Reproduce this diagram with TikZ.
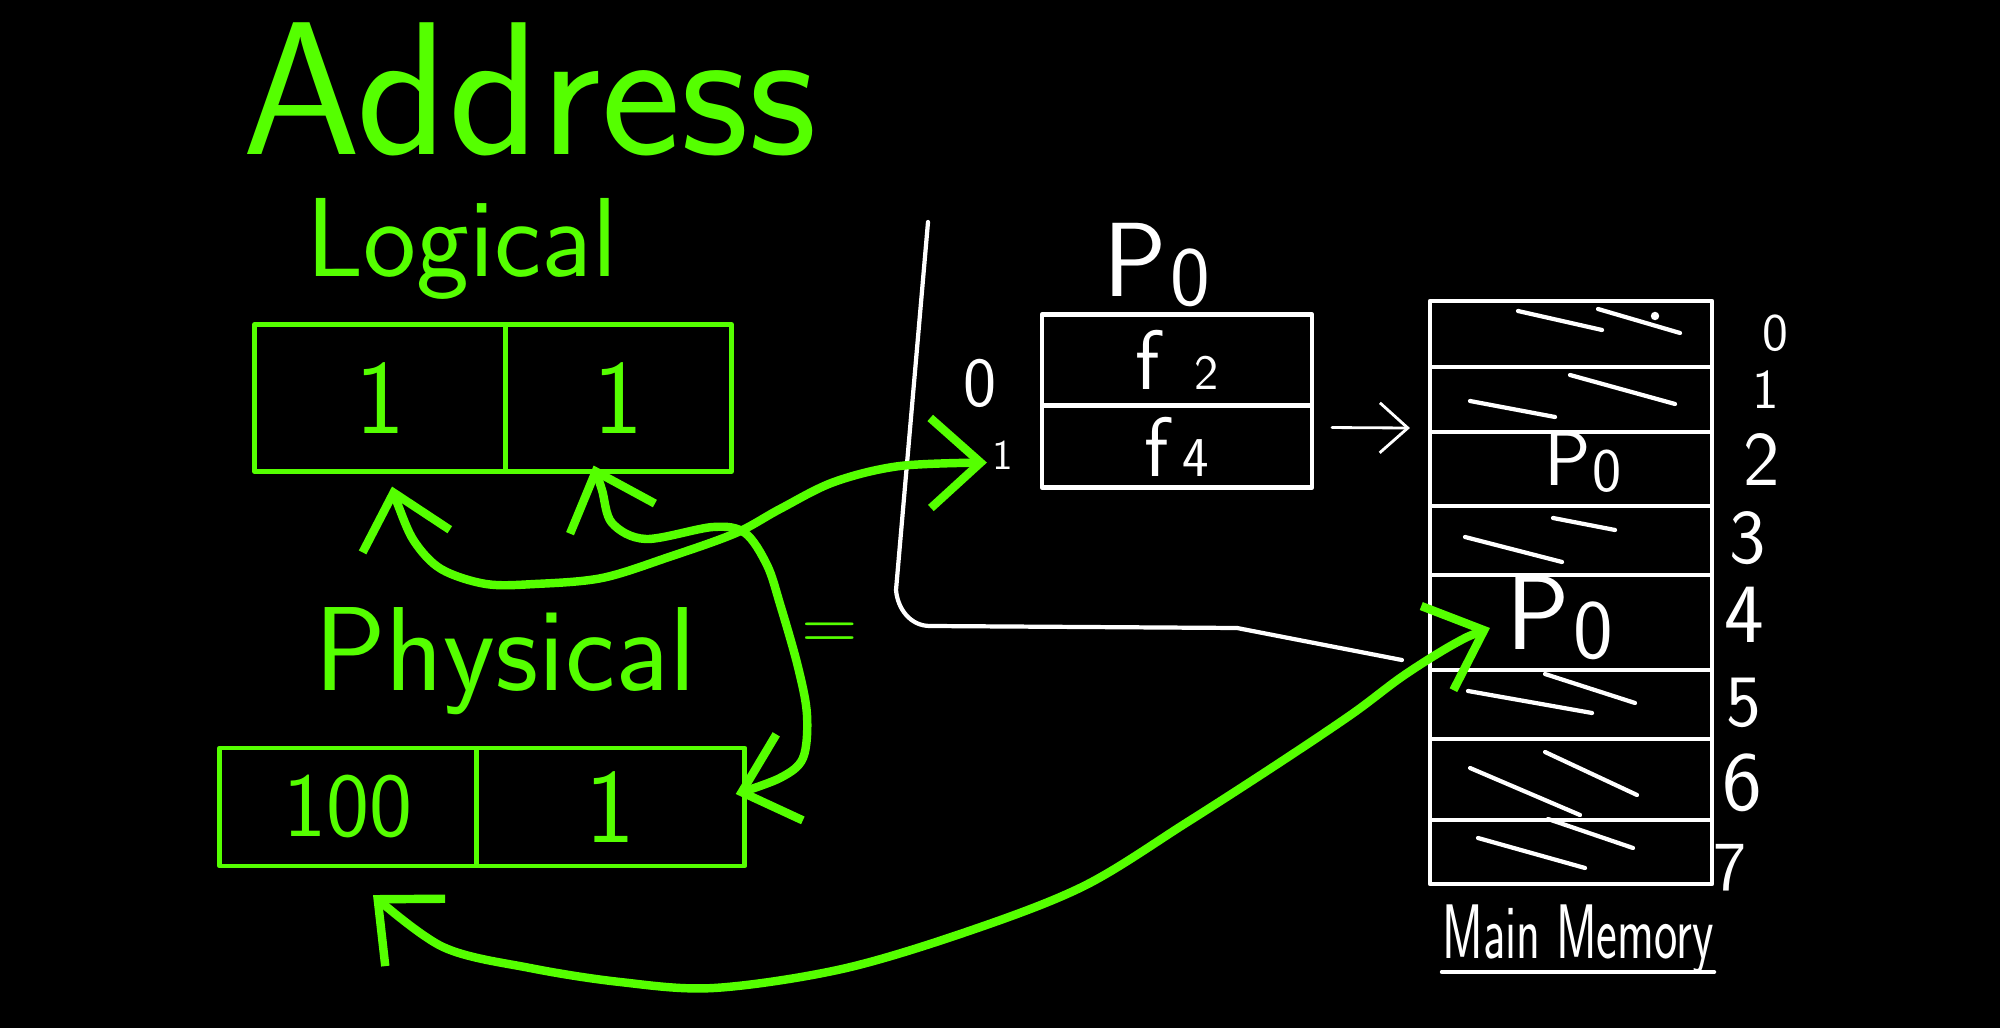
\documentclass[tikz,border=0pt]{standalone}
\usepackage{fontspec}
\usetikzlibrary{arrows.meta, positioning, calc}
\definecolor{chalk}{RGB}{85,255,0}
\newcommand{\fsz}[1]{\fontsize{#1}{#1}\selectfont}
\newcommand{\Pzero}{P\kern0.03em\raisebox{-0.2ex}{\scalebox{0.8}{0}}}

\begin{document}
\begin{tikzpicture}[x=0.01cm, y=-0.01cm, line cap=round, line join=round, font=\sffamily,
	barb/.tip={Straight Barb[length=5mm, width=9mm]},
	gcell/.style={draw=chalk, line width=1.3pt, text=chalk, inner sep=0pt, outer sep=0pt, font=\sffamily\fsz{30}},
	wcell/.style={draw=white, line width=1.2pt, text=white, inner sep=0pt, outer sep=0pt},
	gtext/.style={text=chalk, inner sep=0pt},
	wtext/.style={text=white, inner sep=0pt},
	gwire/.style={draw=chalk, line width=2.4pt, barb-barb},
	wwire/.style={draw=white, line width=1.2pt}]
\path[use as bounding box, fill=black] (0,0) rectangle (2000,1028);

%========================
% Left: addresses
%========================
\node[gtext, font=\sffamily\fsz{54}, anchor=base] (addr) at (530,155) {Address};
\node[gtext, font=\sffamily\fsz{32}, anchor=base] (logi) at (462,277) {Logical};
\node[gtext, font=\sffamily\fsz{34}, anchor=base] (phys) at (505,691) {Physical};
\node[gtext, font=\sffamily\fsz{22}] (eq) at (830,637) {=};

% logical address: page | offset
\node[gcell, minimum width=2.51cm, minimum height=1.47cm] (lpage) at (380,398) {1};
\node[gcell, minimum width=2.26cm, minimum height=1.47cm, right=0pt of lpage] (loff) {1};

% physical address: frame | offset
\node[gcell, font=\sffamily\fsz{26}, minimum width=2.57cm, minimum height=1.18cm] (pframe) at (348,807) {100};
\node[gcell, minimum width=2.68cm, minimum height=1.18cm, right=0pt of pframe] (poff) {1};

%========================
% Middle: page table of P0
%========================
\node[wtext, font=\sffamily\fsz{30}] (ptname) at (1157,265) {\Pzero};
\node[wcell, minimum width=2.7cm, minimum height=0.91cm] (pt0) at (1177,360) {\fsz{24}f\hspace{0.34cm}\fsz{14}2};
\node[wcell, minimum width=2.7cm, minimum height=0.82cm, below=0pt of pt0] (pt1) {\fsz{24}f\hspace{0.14cm}\fsz{16}4};
\node[wtext, font=\sffamily\fsz{20}] (idx0) at (980,383) {0};
\node[wtext, font=\sffamily\fsz{12}] (idx1) at (1003,455) {1};

%========================
% Right: main memory
%========================
\foreach \i/\ya/\yb in {0/301/367, 1/367/432, 2/432/506, 3/506/575, 4/575/670, 5/670/739, 6/739/820, 7/820/884}
	\node[wcell, minimum width=2.82cm, minimum height={(\yb-\ya)*0.1mm}] (m\i) at (1571,{(\ya+\yb)/2}) {};
\foreach \i/\x/\y/\s in {0/1775/333/15, 1/1766/390/16, 2/1762/460/22, 3/1748/538/22, 4/1744/615/24, 5/1744/703/21, 6/1742/783/24, 7/1730/868/20}
	\node[wtext, font=\sffamily\fsz{\s}] (fn\i) at (\x,\y) {\i};
\node[wtext, font=\sffamily\fsz{22}] (p2) at (1583,462) {\Pzero};
\node[wtext, font=\sffamily\fsz{30}] (p4) at (1560,618) {\Pzero};

% used frames
\foreach \a/\b/\c/\d in {1518/311/1602/330, 1598/309/1680/333, 1470/401/1555/417, 1570/375/1675/404,
		1465/537/1562/562, 1553/518/1615/530, 1468/691/1592/713, 1545/674/1635/703,
		1470/768/1580/815, 1545/752/1637/795, 1478/838/1585/868, 1548/819/1633/848}
	\draw[wwire] (\a,\b) -- (\c,\d);
\fill[white] (1655,316) circle[radius=1.2pt];

\node[wtext, font=\sffamily\fsz{22}, anchor=base] (mm) at (1578,958) {\scalebox{0.64}[1]{Main Memory}};
\draw[wwire] ([yshift=-0.14cm]mm.base west) -- ([yshift=-0.14cm]mm.base east);

%========================
% connectors
%========================
\coordinate (ptbr) at (928,222);
\draw[wwire] (ptbr) -- (896,590) to[out=-85, in=180] (930,626) -- (1237,628) -- ([xshift=-0.28cm, yshift=0.1cm]m4.south west);
\draw[wwire, line width=0.8pt, -{Straight Barb[length=2.8mm, width=5mm]}]
	([xshift=0.2cm, yshift=-0.22cm]pt1.north east) -- ([xshift=-0.2cm, yshift=0.04cm]m1.south west);

% page number -> page table
\coordinate (lpTip) at ([xshift=0.12cm, yshift=-0.15cm]lpage.south);
\coordinate (ptTip) at ([xshift=-0.55cm, yshift=-0.16cm]pt1.west);
\draw[gwire] plot[smooth, tension=0.55] coordinates {(lpTip) (398,505) (414,541) (441,569) (486,584) (535,584)
	(602,578) (669,557) (736,533) (780,509) (834,482) (900,466) (ptTip)};

% offset -> offset
\coordinate (loTip) at ([xshift=-0.25cm, yshift=0.06cm]loff.south);
\coordinate (poTip) at ([xshift=-0.09cm, yshift=0.13cm]poff.east);
\draw[gwire] plot[smooth, tension=0.55] coordinates {(loTip) (602,490) (612,523) (646,539) (713,527) (745,533)
	(767,565) (780,604) (798,667) (807,715) (803,758) (780,778) (poTip)};

% frame -> frame number
\coordinate (mTip) at ([xshift=0.6cm, yshift=-0.055cm]m4.west);
\coordinate (pfTip) at ([xshift=0.25cm, yshift=-0.29cm]pframe.south);
\draw[gwire] plot[smooth, tension=0.55] coordinates {(mTip) (1454,644) (1403,676) (1352,714) (1276,765) (1186,823)
	(1084,886) (969,931) (842,969) (714,988) (620,982) (530,968) (443,947) (pfTip)};
\end{tikzpicture}
\end{document}
